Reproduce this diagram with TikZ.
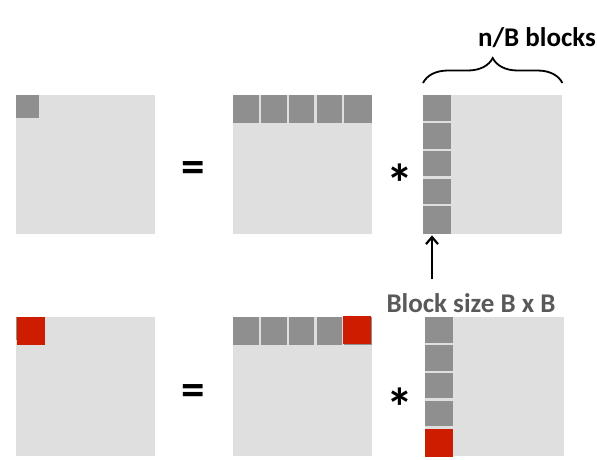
\documentclass[tikz,border=0pt]{standalone}
\usepackage{fontspec}
\setmainfont{Carlito}
\usetikzlibrary{decorations.pathreplacing,arrows.meta}
\definecolor{matgray}{RGB}{223,223,223}
\definecolor{blkgray}{RGB}{143,143,143}
\definecolor{blkred}{RGB}{206,28,0}
\definecolor{lblgray}{RGB}{89,89,89}

\begin{document}
\begin{tikzpicture}[x=1pt,y=-1pt,
  mat/.style={fill=matgray,minimum size=139pt,inner sep=0pt,anchor=north west},
  blk/.style={fill=blkgray,inner sep=0pt,anchor=north west},
  redblk/.style={fill=blkred,minimum size=28pt,inner sep=0pt,anchor=north west},
  op/.style={font=\fontsize{47}{47}\selectfont\bfseries,inner sep=0pt},
  star/.style={font=\fontsize{54}{54}\selectfont\bfseries,inner sep=0pt},
  lbl/.style={font=\fontsize{27}{29}\selectfont\bfseries,inner sep=0pt}]
\useasboundingbox (0,0) rectangle (597,459);
\node[mat] (c1) at (16,95) {};
\node[blk,minimum size=23pt] (c1b) at (16,95) {};
\node[op] (eq1) at (193,172) {=};
\node[mat] (a1) at (233,95) {};
\foreach \i in {0,...,4}
  \node[blk,minimum height=28pt,minimum width={\i==4 ? 27.8 : 25.6}] (a1b\i) at (233+27.8*\i,95) {};
\node[star] (st1) at (400,183) {*};
\node[mat] (b1) at (423,95) {};
\foreach \i in {0,...,4}
  \node[blk,minimum width=28pt,minimum height={\i==4 ? 27.8 : 25.6}] (b1b\i) at (423,95+27.8*\i) {};
\draw[line width=1.8pt,decorate,decoration={brace,amplitude=25pt}]
  ([yshift=12pt]b1.north west) -- ([yshift=12pt]b1.north east);
\node[lbl] (nb) at (537,38) {n/B blocks};
\node[lbl,text=lblgray] (bs) at (471,303) {Block size B x B};
\coordinate (tl) at (432,279);
\draw[-{Straight Barb[length=7pt,width=12pt]},line width=2.2pt] (tl) -- ([yshift=-1pt]tl |- b1b4.south);
\node[mat] (c2) at (16,317) {};
\node[blk,minimum size=23pt] (c2b) at (16,317) {};
\node[redblk] (c2r) at (17,317) {};
\node[op] (eq2) at (193,395) {=};
\node[mat] (a2) at (233,317) {};
\foreach \i in {0,...,3}
  \node[blk,minimum height=28pt,minimum width=25.6pt] (a2b\i) at (233+27.8*\i,317) {};
\node[blk,minimum height=28pt,minimum width=27.8pt] (a2b4) at (344.2,317) {};
\node[redblk] (a2r) at (343,316) {};
\node[star] (st2) at (400,407) {*};
\node[mat] (b2) at (425,317) {};
\foreach \i in {0,...,3}
  \node[blk,minimum width=28pt,minimum height=25.6pt] (b2b\i) at (425,317+27.8*\i) {};
\node[redblk] (b2r) at (425,429) {};
\end{tikzpicture}
\end{document}
